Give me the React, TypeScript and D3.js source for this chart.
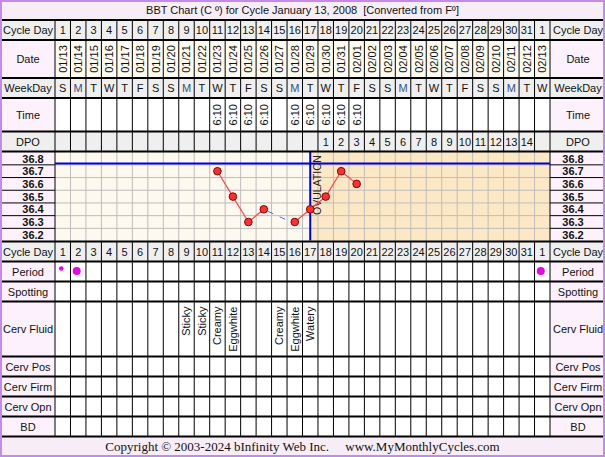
import React, { useEffect } from "react";
import * as d3 from "d3";

const title = "BBT Chart (C \u00BA) for Cycle January 13, 2008 \u00A0[Converted from F\u00BA]";
const copyright = "Copyright \u00A9 2003-2024 bInfinity Web Inc.\u00A0\u00A0\u00A0\u00A0 www.MyMonthlyCycles.com";

const cycleDays = ["1","2","3","4","5","6","7","8","9","10","11","12","13","14","15","16","17","18","19","20","21","22","23","24","25","26","27","28","29","30","31","1"];
const dates = ["01/13","01/14","01/15","01/16","01/17","01/18","01/19","01/20","01/21","01/22","01/23","01/24","01/25","01/26","01/27","01/28","01/29","01/30","01/31","02/01","02/02","02/03","02/04","02/05","02/06","02/07","02/08","02/09","02/10","02/11","02/12","02/13"];
const weekdays = ["S","M","T","W","T","F","S","S","M","T","W","T","F","S","S","M","T","W","T","F","S","S","M","T","W","T","F","S","S","M","T","W"];
const times = ["","","","","","","","","","","6:10","6:10","6:10","6:10","","6:10","6:10","6:10","6:10","6:10","","","","","","","","","","","",""];
const dpo = ["","","","","","","","","","","","","","","","","","1","2","3","4","5","6","7","8","9","10","11","12","13","14",""];
const temps: (number | null)[] = [null,null,null,null,null,null,null,null,null,null,36.7,36.5,36.3,36.4,null,36.3,36.4,36.5,36.7,36.6,null,null,null,null,null,null,null,null,null,null,null,null];
const tempTicks = [36.8, 36.7, 36.6, 36.5, 36.4, 36.3, 36.2];
const period = [1,2,0,0,0,0,0,0,0,0,0,0,0,0,0,0,0,0,0,0,0,0,0,0,0,0,0,0,0,0,0,2];
const cervFluid = ["","","","","","","","","Sticky","Sticky","Creamy","Eggwhite","","","Creamy","Eggwhite","Watery","","","","","","","","","","","","","","",""];
const coverline = 36.76;
const ovulationDay = 17;

const W = 605, H = 457;
const LEFT = 55, RIGHT = 550;
const FONT = "'Liberation Sans', Arial, sans-serif";

export default function App() {
  useEffect(() => { document.body.style.margin = "0"; }, []);
  const n = cycleDays.length;
  const x = d3.scaleLinear().domain([0, n]).range([LEFT, RIGHT]);
  const cx = (i: number) => x(i + 0.5);
  const y = d3.scaleLinear().domain([36.8, 36.2]).range([158.5, 234.7]);
  const rowH = y(36.7) - y(36.8);

  const rows = {
    title: [0, 20], cd: [20, 40], date: [40, 78], wd: [78, 98], time: [98, 131.5], dpo: [131.5, 151.5],
    temp: [151.5, 241.5], cd2: [241.5, 261.5], period: [261.5, 281.5], spot: [281.5, 301.5],
    fluid: [301.5, 356.5], pos: [356.5, 376.5], firm: [376.5, 396.5], opn: [396.5, 416.5], bd: [416.5, 436.5], copy: [436.5, 456],
  };
  const gray = "#efefef", pink = "#fdf1fd", cream = "#fdfaf0", white = "#ffffff", lav = "#f7edf7";
  const tableRows: { key: keyof typeof rows; label: string; labelBg: string; cellBg: string }[] = [
    { key: "cd", label: "Cycle Day", labelBg: gray, cellBg: gray },
    { key: "date", label: "Date", labelBg: pink, cellBg: cream },
    { key: "wd", label: "WeekDay", labelBg: gray, cellBg: gray },
    { key: "time", label: "Time", labelBg: pink, cellBg: white },
    { key: "dpo", label: "DPO", labelBg: gray, cellBg: gray },
    { key: "cd2", label: "Cycle Day", labelBg: gray, cellBg: gray },
    { key: "period", label: "Period", labelBg: pink, cellBg: white },
    { key: "spot", label: "Spotting", labelBg: pink, cellBg: white },
    { key: "fluid", label: "Cerv Fluid", labelBg: pink, cellBg: white },
    { key: "pos", label: "Cerv Pos", labelBg: pink, cellBg: white },
    { key: "firm", label: "Cerv Firm", labelBg: pink, cellBg: white },
    { key: "opn", label: "Cerv Opn", labelBg: pink, cellBg: white },
    { key: "bd", label: "BD", labelBg: pink, cellBg: white },
  ];
  const idx = d3.range(n);
  const mid = (r: number[]) => (r[0] + r[1]) / 2;

  const pts = temps.map((t, i) => (t == null ? null : { i, t }));
  const valid = pts.filter((p) => p) as { i: number; t: number }[];
  const segs: { a: { i: number; t: number }; b: { i: number; t: number }; dashed: boolean }[] = [];
  for (let k = 1; k < valid.length; k++) {
    segs.push({ a: valid[k - 1], b: valid[k], dashed: valid[k].i - valid[k - 1].i > 1 });
  }
  const ovX = cx(ovulationDay - 1);
  const tr = rows.temp;

  return (
    <svg width={W} height={H} style={{ position: "absolute", left: 0, top: 0, fontFamily: FONT }}>
      <rect x={0} y={0} width={W} height={H} fill="#fff" />
      <rect x={0} y={rows.title[0]} width={W} height={rows.title[1] - rows.title[0]} fill={lav} />
      <rect x={0} y={rows.copy[0]} width={W} height={rows.copy[1] - rows.copy[0]} fill={lav} />
      <text x={W / 2} y={14} textAnchor="middle" fontSize={11} fill="#111">{title}</text>
      <text x={W / 2} y={451} textAnchor="middle" fontSize={13} fill="#111" fontFamily="'Liberation Serif', 'Times New Roman', serif">{copyright}</text>

      {tableRows.map((r) => {
        const [y0, y1] = rows[r.key];
        return (
          <g key={r.key}>
            <rect x={0} y={y0} width={LEFT} height={y1 - y0} fill={r.labelBg} />
            <rect x={RIGHT} y={y0} width={W - RIGHT} height={y1 - y0} fill={r.labelBg} />
            <rect x={LEFT} y={y0} width={RIGHT - LEFT} height={y1 - y0} fill={r.cellBg} />
            <text x={28} y={mid([y0, y1]) + 4} textAnchor="middle" fontSize={11} fill="#111">{r.label}</text>
            <text x={578} y={mid([y0, y1]) + 4} textAnchor="middle" fontSize={11} fill="#111">{r.label}</text>
            {idx.map((i) => (
              <line key={i} x1={x(i)} x2={x(i)} y1={y0} y2={y1} stroke="#000" strokeWidth={1} />
            ))}
            <line x1={RIGHT} x2={RIGHT} y1={y0} y2={y1} stroke="#000" strokeWidth={1} />
          </g>
        );
      })}

      {[rows.cd, rows.cd2].map((r, k) =>
        idx.map((i) => (
          <text key={`cd${k}-${i}`} x={cx(i)} y={mid(r) + 4} textAnchor="middle" fontSize={11} fill="#111">{cycleDays[i]}</text>
        ))
      )}
      {idx.map((i) => (
        <text key={`d${i}`} transform={`translate(${cx(i) + 4},${mid(rows.date)}) rotate(-90)`} textAnchor="middle" fontSize={11} fill="#111">{dates[i]}</text>
      ))}
      {idx.map((i) => (
        <text key={`w${i}`} x={cx(i)} y={mid(rows.wd) + 4} textAnchor="middle" fontSize={11} fill={weekdays[i] === "M" ? "#34508a" : "#111"}>{weekdays[i]}</text>
      ))}
      {idx.map((i) => times[i] ? (
        <text key={`t${i}`} transform={`translate(${cx(i) + 4},${mid(rows.time)}) rotate(-90)`} textAnchor="middle" fontSize={11} fill="#111">{times[i]}</text>
      ) : null)}
      {idx.map((i) => dpo[i] ? (
        <text key={`p${i}`} x={cx(i)} y={mid(rows.dpo) + 4} textAnchor="middle" fontSize={11} fill="#111">{dpo[i]}</text>
      ) : null)}
      {idx.map((i) => period[i] ? (
        <circle key={`pe${i}`} cx={cx(i) - 1.5} cy={period[i] === 1 ? 268.5 : 271} r={period[i] === 1 ? 2.3 : 4} fill="#ee00ee" />
      ) : null)}
      {idx.map((i) => cervFluid[i] ? (
        <text key={`f${i}`} transform={`translate(${cx(i) + 4},${rows.fluid[0] + 5}) rotate(-90)`} textAnchor="end" fontSize={11} fill="#111">{cervFluid[i]}</text>
      ) : null)}

      <rect x={LEFT} y={tr[0]} width={ovX - LEFT} height={tr[1] - tr[0]} fill="#fdf9ee" />
      <rect x={ovX} y={tr[0]} width={RIGHT - ovX} height={tr[1] - tr[0]} fill="#fde8c6" />
      <rect x={0} y={tr[0]} width={LEFT} height={tr[1] - tr[0]} fill={pink} />
      <rect x={RIGHT} y={tr[0]} width={W - RIGHT} height={tr[1] - tr[0]} fill={pink} />
      {tempTicks.slice(0, -1).map((t) => (
        <g key={`hl${t}`}>
          <line x1={LEFT} x2={RIGHT} y1={y(t) + rowH / 2} y2={y(t) + rowH / 2} stroke="#bdbdbd" strokeWidth={1} />
          <line x1={0} x2={LEFT} y1={y(t) + rowH / 2} y2={y(t) + rowH / 2} stroke="#000" strokeWidth={1} />
          <line x1={RIGHT} x2={W} y1={y(t) + rowH / 2} y2={y(t) + rowH / 2} stroke="#000" strokeWidth={1} />
        </g>
      ))}
      {idx.slice(1).map((i) => (
        <line key={`vl${i}`} x1={x(i)} x2={x(i)} y1={tr[0]} y2={tr[1]} stroke="#bdbdbd" strokeWidth={1} />
      ))}
      <line x1={LEFT} x2={LEFT} y1={tr[0]} y2={tr[1]} stroke="#000" strokeWidth={1} />
      <line x1={RIGHT} x2={RIGHT} y1={tr[0]} y2={tr[1]} stroke="#000" strokeWidth={1} />
      {tempTicks.map((t) => (
        <g key={`tl${t}`}>
          <text x={33} y={y(t) + 4} textAnchor="middle" fontSize={11} fontWeight="bold" fill="#111">{t.toFixed(1)}</text>
          <text x={573} y={y(t) + 4} textAnchor="middle" fontSize={11} fontWeight="bold" fill="#111">{t.toFixed(1)}</text>
        </g>
      ))}
      <line x1={LEFT} x2={RIGHT} y1={y(coverline)} y2={y(coverline)} stroke="#0000e0" strokeWidth={2} />
      <line x1={ovX} x2={ovX} y1={tr[0]} y2={tr[1] - 1} stroke="#0000e0" strokeWidth={2} />
      <text transform={`translate(${ovX + 11},${215}) rotate(-90)`} fontSize={10.5} fill="#222">OVULATION</text>
      {segs.map((s, k) => s.dashed ? (
        <line key={`s${k}`} x1={cx(s.a.i) + 4} y1={y(s.a.t) + 2} x2={cx(s.b.i) - 6} y2={y(s.b.t) - 1} stroke="#5566ee" strokeWidth={1} strokeDasharray="6,7" />
      ) : (
        <line key={`s${k}`} x1={cx(s.a.i)} y1={y(s.a.t)} x2={cx(s.b.i)} y2={y(s.b.t)} stroke="#ff4444" strokeWidth={1.2} />
      ))}
      {valid.map((p) => (
        <circle key={`c${p.i}`} cx={cx(p.i)} cy={y(p.t)} r={3.8} fill="#ff3030" stroke="#8b0000" strokeWidth={1} />
      ))}

      {[20, 40, 78, 98, 131.5, 151.5, 241.5, 261.5, 281.5, 301.5, 356.5, 376.5, 396.5, 416.5, 436.5].map((yy) => (
        <line key={`h${yy}`} x1={0} x2={W} y1={yy} y2={yy} stroke="#000" strokeWidth={2} />
      ))}
      <rect x={1} y={1} width={W - 2} height={H - 2} fill="none" stroke="#c38be6" strokeWidth={2} />
    </svg>
  );
}
